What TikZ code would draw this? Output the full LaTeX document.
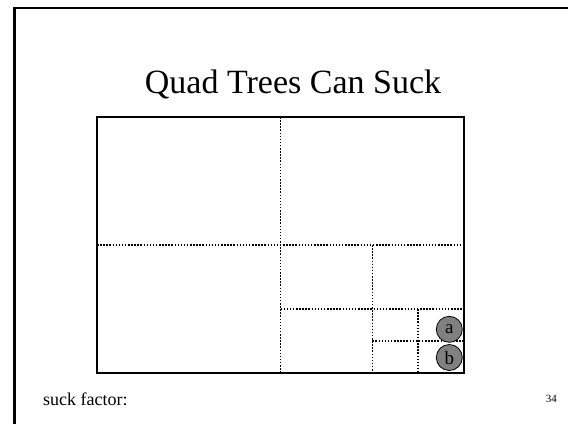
\documentclass[tikz,border=0pt]{standalone}
\usepackage{fontspec}
\setmainfont{Liberation Serif}
\begin{document}
\begin{tikzpicture}[x=1pt,y=-1pt,
  frameline/.style={line width=2.5pt},
  outerbox/.style={line width=2.8pt},
  divline/.style={line width=1.5pt, dash pattern=on 1.5pt off 1.6pt},
  pt/.style={circle, draw=black, line width=0.8pt, fill=black!50, minimum size=26pt, inner sep=0pt}]
\useasboundingbox (0,0) rectangle (568,424);
\fill[white] (0,0) rectangle (568,424);
% slide frame
\draw[frameline] (14.5,424) -- (14.5,8) -- (568,8);
% title
\node[anchor=base, inner sep=0pt, font=\fontsize{34}{34}\selectfont] (title) at (293,93.3) {Quad Trees Can Suck};
% quadtree subdivisions
\draw[divline] (280.5,117) -- (280.5,373);
\draw[divline] (97,245) -- (464,245);
\draw[divline] (372.3,245) -- (372.3,373);
\draw[divline] (280.5,309) -- (464,309);
\draw[divline] (418.1,309) -- (418.1,373);
\draw[divline] (372.3,341) -- (464,341);
% outer box
\draw[outerbox] (97,117) rectangle (464,373);
% points
\node[pt, font=\fontsize{19}{19}\selectfont] (a) at (449.3,329.3) {a};
\node[pt, font=\fontsize{19}{19}\selectfont] (b) at (449.3,357.5) {b};
% footer
\node[anchor=base west, inner sep=0pt, font=\fontsize{18}{18}\selectfont] (suck) at (43,405) {suck factor:};
\node[anchor=base east, inner sep=0pt, font=\fontsize{11}{11}\selectfont] (num) at (557,402.7) {34};
\end{tikzpicture}
\end{document}
